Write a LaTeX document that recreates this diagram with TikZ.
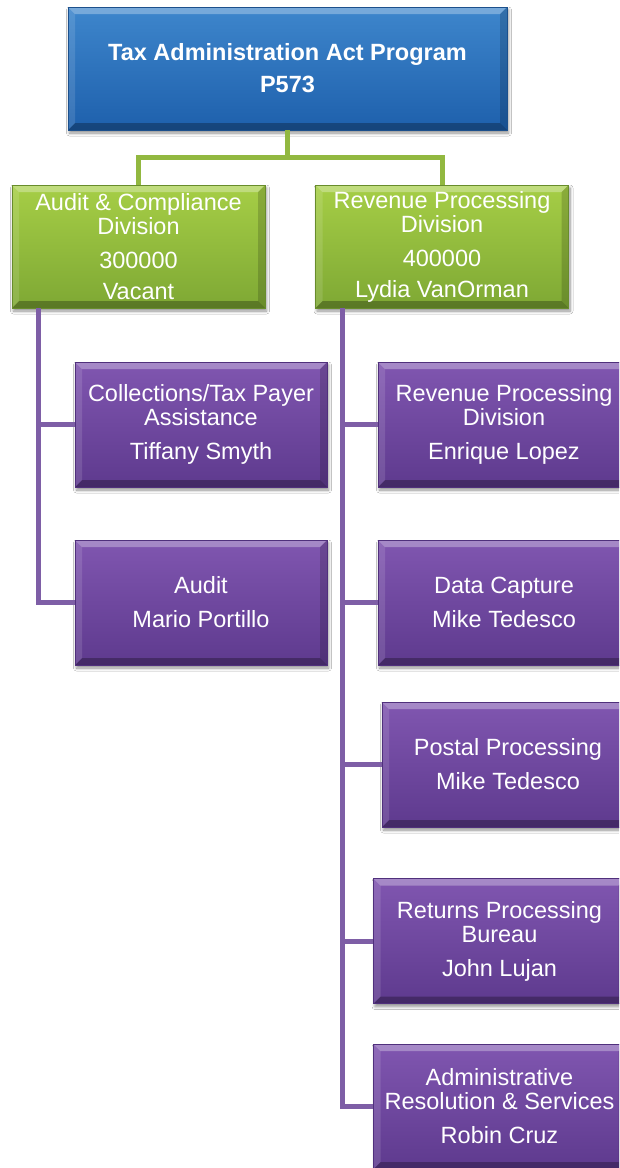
\documentclass[tikz,border=0pt]{standalone}
\usepackage{fontspec}
\setmainfont{Liberation Sans}
\usetikzlibrary{calc,shadows.blur}

\definecolor{blueTop}{RGB}{62,134,204}
\definecolor{blueBot}{RGB}{30,96,172}
\definecolor{blueEdge}{RGB}{28,80,140}
\definecolor{greenTop}{RGB}{166,206,70}
\definecolor{greenBot}{RGB}{126,168,52}
\definecolor{greenEdge}{RGB}{104,140,44}
\definecolor{purpTop}{RGB}{128,86,176}
\definecolor{purpBot}{RGB}{94,58,142}
\definecolor{purpEdge}{RGB}{80,48,124}
\definecolor{greenLine}{RGB}{146,184,64}
\definecolor{purpLine}{RGB}{126,94,166}

\newcommand{\boxfont}{\fontsize{23.5pt}{24pt}\selectfont}

\tikzset{
  bevel/.style={path picture={
    \fill[white,opacity=.30] (path picture bounding box.north west) -- (path picture bounding box.north east)
      -- ++(-#1,-#1) -- ($(path picture bounding box.north west)+(#1,-#1)$) -- cycle;
    \fill[black,opacity=.28] (path picture bounding box.south west) -- (path picture bounding box.south east)
      -- ++(-#1,#1) -- ($(path picture bounding box.south west)+(#1,#1)$) -- cycle;
    \fill[white,opacity=.12] (path picture bounding box.north west) -- ++(#1,-#1)
      -- ($(path picture bounding box.south west)+(#1,#1)$) -- (path picture bounding box.south west) -- cycle;
    \fill[black,opacity=.16] (path picture bounding box.north east) -- ++(-#1,-#1)
      -- ($(path picture bounding box.south east)+(-#1,#1)$) -- (path picture bounding box.south east) -- cycle;
  }},
  orgbox/.style={rectangle, inner sep=0pt, align=center, text=white, font=\boxfont,
    line width=0.6pt, bevel=7pt,
    blur shadow={shadow xshift=1.5pt, shadow yshift=-3pt, shadow blur steps=6,
                 shadow blur radius=3pt, shadow opacity=45}},
  headbox/.style={orgbox, draw=blueEdge, top color=blueTop, bottom color=blueBot,
    minimum width=439pt, minimum height=123pt, font=\boxfont\bfseries},
  divbox/.style={orgbox, draw=greenEdge, top color=greenTop, bottom color=greenBot,
    minimum width=253pt, minimum height=123pt},
  unitbox/.style={orgbox, draw=purpEdge, top color=purpTop, bottom color=purpBot,
    minimum width=252pt, minimum height=125pt},
  gline/.style={draw=greenLine, line width=5pt, line join=miter},
  pline/.style={draw=purpLine, line width=5pt, line join=miter},
}

\begin{document}
\begin{tikzpicture}[x=1pt, y=-1pt]
  \useasboundingbox (0,0) rectangle (619,1168);
  \fill[white] (0,0) rectangle (619,1168);
  \clip (0,0) rectangle (619,1168);

  % rails of the connectors
  \coordinate (gbar) at (0,157);
  \coordinate (lrail) at (38,0);
  \coordinate (rrail) at (342,0);

  % boxes
  \node[headbox] (top) at (287.5,68.5) {Tax Administration Act Program\\[8pt]P573};

  \node[divbox] (acd) at (138.5,246.5) {Audit \& Compliance\\Division\\[10pt]300000\\[7pt]Vacant};
  \node[divbox] (rpd) at (442,246.5) {Revenue Processing\\Division\\[10pt]400000\\[7pt]Lydia VanOrman};

  \node[unitbox] (col) at (201,424.5) {Collections/Tax Payer\\Assistance\\[10pt]Tiffany Smyth};
  \node[unitbox] (aud) at (201,602.5) {Audit\\[10pt]Mario Portillo};

  \node[unitbox] (rev) at (504,424.5) {Revenue Processing\\Division\\[10pt]Enrique Lopez};
  \node[unitbox] (dat) at (504,602.5) {Data Capture\\[10pt]Mike Tedesco};
  \node[unitbox] (pos) at (508,764.5) {Postal Processing\\[10pt]Mike Tedesco};
  \node[unitbox] (ret) at (499.5,941) {Returns Processing\\Bureau\\[10pt]John Lujan};
  \node[unitbox] (adm) at (499.5,1106.5) {Administrative\\Resolution \& Services\\[10pt]Robin Cruz};

  % program to divisions
  \draw[gline] (top.south) -- (gbar -| top.south);
  \draw[gline] (acd.north) |- (gbar -| top.south) -| (rpd.north);

  % audit & compliance division to its units
  \draw[pline] (lrail |- acd.south) |- (aud.west);
  \draw[pline] (lrail |- col.west) -- (col.west);

  % revenue processing division to its units
  \draw[pline] (rrail |- rpd.south) |- (adm.west);
  \draw[pline] (rrail |- rev.west) -- (rev.west);
  \draw[pline] (rrail |- dat.west) -- (dat.west);
  \draw[pline] (rrail |- pos.west) -- (pos.west);
  \draw[pline] (rrail |- ret.west) -- (ret.west);
\end{tikzpicture}
\end{document}
